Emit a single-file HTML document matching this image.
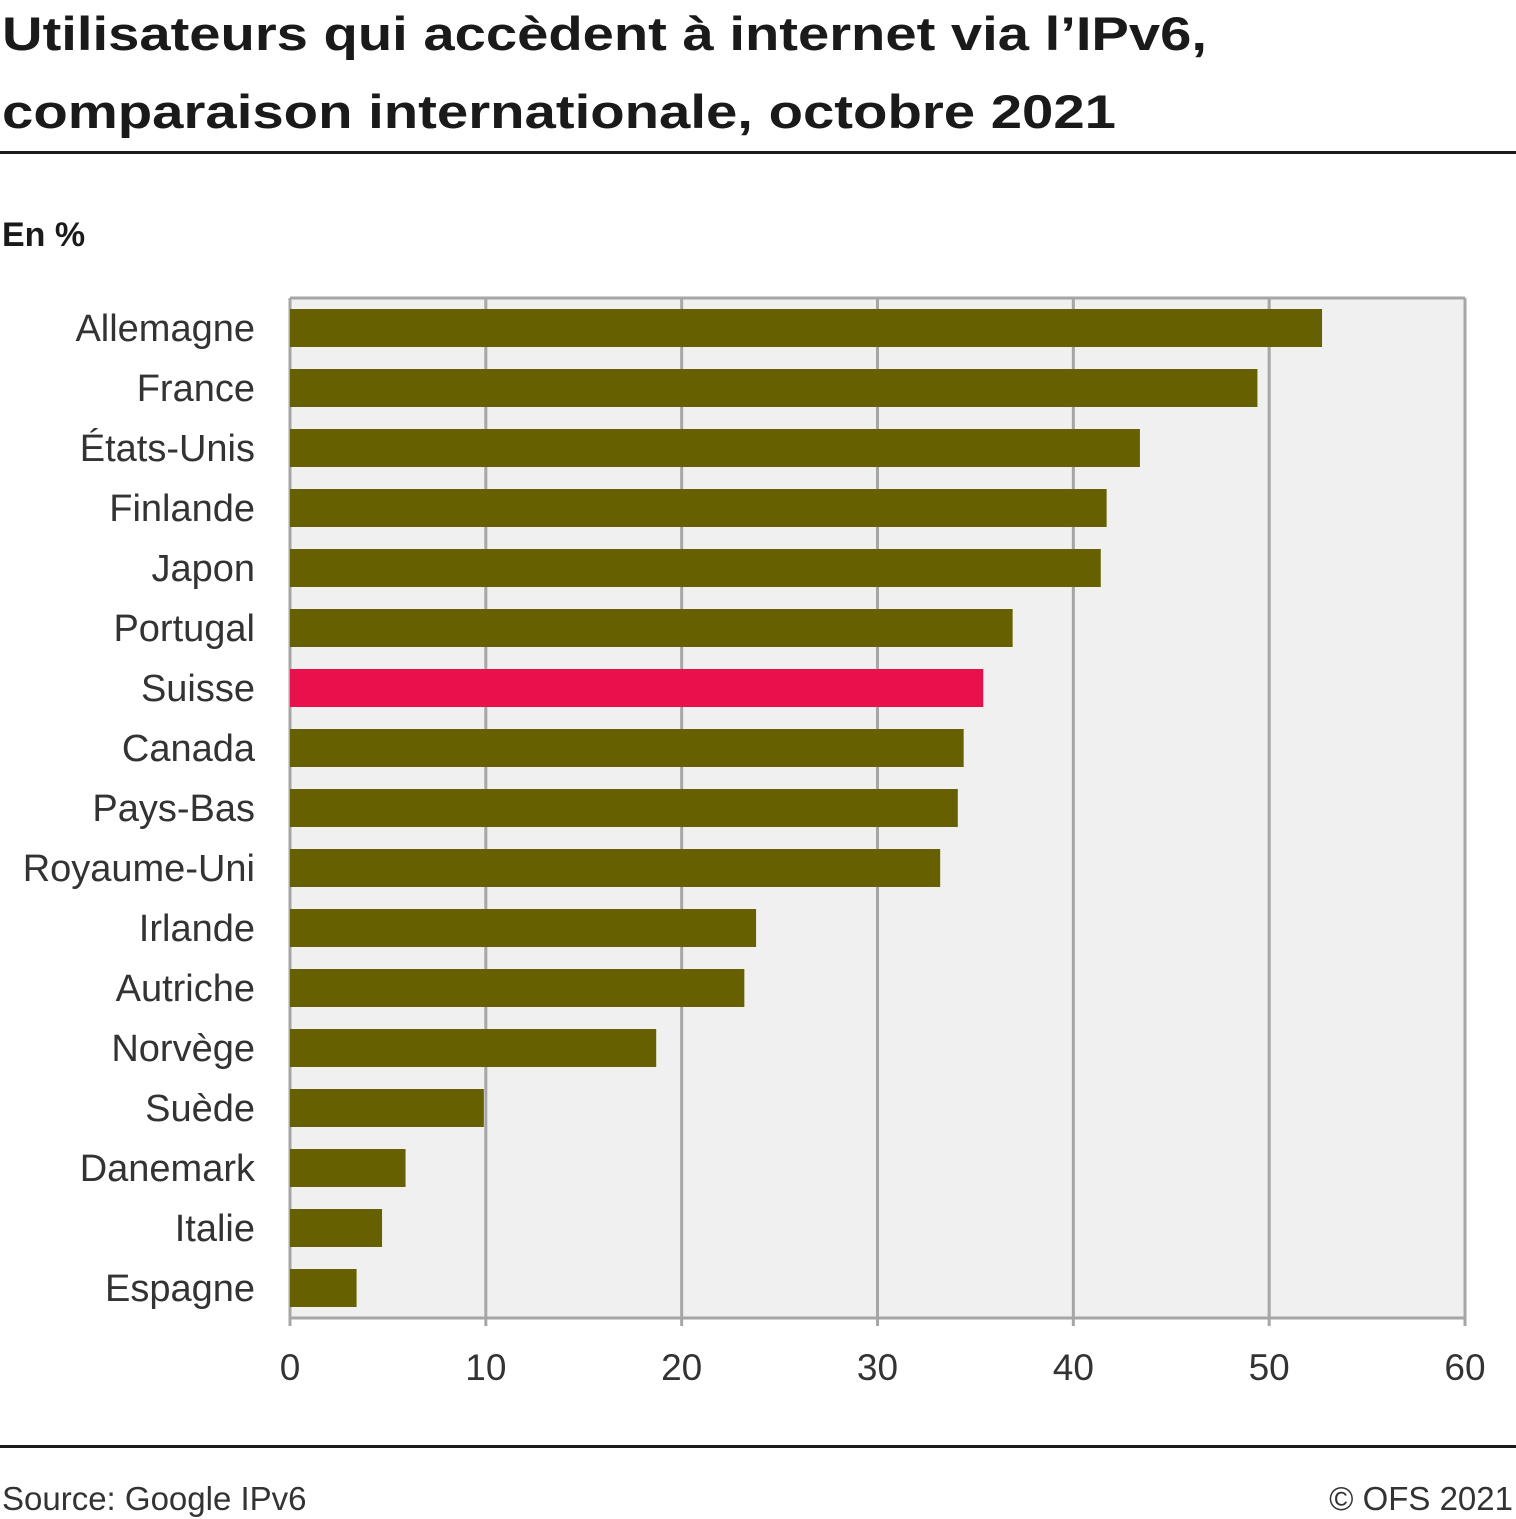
<!DOCTYPE html>
<html><head><meta charset="utf-8">
<style>
html,body{margin:0;padding:0;background:#fff;}
body{width:1516px;height:1519px;overflow:hidden;}
svg{display:block;font-family:"Liberation Sans",sans-serif;}
</style></head>
<body>
<svg id="chart" width="1516" height="1519" xmlns="http://www.w3.org/2000/svg">
  <text x="2" y="50" font-size="47" font-weight="bold" fill="#1a1a1a" textLength="1205" lengthAdjust="spacingAndGlyphs">Utilisateurs qui accèdent à internet via l’IPv6,</text>
  <text x="2" y="128" font-size="47" font-weight="bold" fill="#1a1a1a" textLength="1114" lengthAdjust="spacingAndGlyphs">comparaison internationale, octobre 2021</text>
  <rect x="0" y="151" width="1516" height="3" fill="#1a1a1a"/>
  <text x="2" y="246" font-size="34" font-weight="bold" fill="#1a1a1a">En %</text>
  <g id="plot"></g>
  <rect x="0" y="1445" width="1516" height="3" fill="#1a1a1a"/>
  <text x="2" y="1510" font-size="33" fill="#333">Source: Google IPv6</text>
  <text x="1513" y="1510" font-size="33" fill="#333" text-anchor="end">© OFS 2021</text>
</svg>
<script>
const categories=["Allemagne","France","États-Unis","Finlande","Japon","Portugal","Suisse","Canada","Pays-Bas","Royaume-Uni","Irlande","Autriche","Norvège","Suède","Danemark","Italie","Espagne"];
const values=[52.7,49.4,43.4,41.7,41.4,36.9,35.4,34.4,34.1,33.2,23.8,23.2,18.7,9.9,5.9,4.7,3.4];
const highlight=["Suisse"];
const ticks=[0,10,20,30,40,50,60];

const NS="http://www.w3.org/2000/svg";
const plotG=document.getElementById('plot');
const X0=290,X1=1465,Y0=298,Y1=1318,XMAX=60;
const xs=v=>X0+(X1-X0)*v/XMAX;
const step=(Y1-Y0)/categories.length;
const yc=i=>Y0+step*(i+0.5);
function mk(t,a){const e=document.createElementNS(NS,t);for(const k in a)e.setAttribute(k,a[k]);plotG.appendChild(e);return e;}

const bg=mk('rect',{x:X0,y:Y0,width:X1-X0,height:Y1-Y0,fill:'#f0f0f0'});



ticks.forEach(t=>{
  const l=mk('line',{x1:xs(t),x2:xs(t),y1:Y0,y2:Y1+8,stroke:'#a6a6a6','stroke-width':3});
  
  
  const tx=mk('text',{x:xs(t),y:1380,'font-size':37,fill:'#333','text-anchor':'middle'});
  tx.textContent=t;
  
  
});
const topBorder=mk('line',{x1:X0,x2:X1,y1:Y0,y2:Y0,stroke:'#a6a6a6','stroke-width':3});


const axisLine=mk('line',{x1:X0,x2:X1,y1:Y1,y2:Y1,stroke:'#a6a6a6','stroke-width':3});



categories.forEach((c,i)=>{
  const r=mk('rect',{x:X0,y:yc(i)-19,width:xs(values[i])-X0,height:38,fill:highlight.includes(c)?'#e8114b':'#666000'});
  
  
  const t=mk('text',{x:255,y:yc(i)+13,'font-size':38,fill:'#333','text-anchor':'end'});
  t.textContent=c;
  
  
});
</script>
</body></html>
